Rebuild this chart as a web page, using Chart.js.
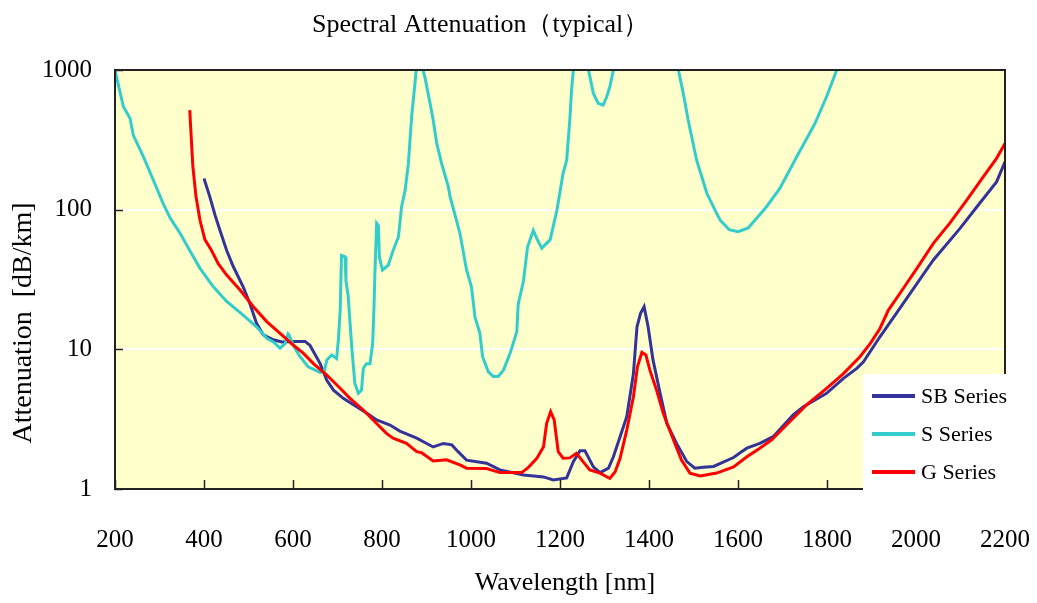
<!DOCTYPE html>
<html>
<head>
<meta charset="utf-8">
<title>Spectral Attenuation</title>
<script src="https://cdn.jsdelivr.net/npm/chart.js@4.4.1/dist/chart.umd.min.js"></script>
<style>
  html, body { margin: 0; padding: 0; background: #fff; }
</style>
</head>
<body>
<canvas id="spectrum" width="1037" height="603"></canvas>
<script>
// wavelength [nm] / attenuation [dB/km]
const sbNm = [400, 413, 425, 436, 451, 466, 488, 503, 518, 533, 556, 575, 601, 627, 638, 661, 676, 691, 713, 743,
  766, 788, 818, 840, 878, 915, 938, 957, 971, 990, 1035, 1065, 1118, 1163, 1185, 1215, 1230, 1245, 1256, 1275,
  1290, 1309, 1320, 1335, 1350, 1365, 1373, 1381, 1389, 1398, 1409, 1425, 1440, 1462, 1485, 1503, 1522, 1545, 1590, 1608,
  1620, 1649, 1679, 1724, 1747, 1799, 1837, 1867, 1882, 1919, 1964, 2039, 2099, 2140, 2181, 2200];
const sbDb = [167, 124, 91, 71, 51, 39, 28, 21.3, 15.4, 12.7, 11.7, 11.3, 11.4, 11.4, 10.7, 7.9, 6.0, 5.1, 4.46, 3.88,
  3.48, 3.12, 2.87, 2.6, 2.31, 2.0, 2.12, 2.07, 1.85, 1.61, 1.53, 1.37, 1.26, 1.22, 1.16, 1.2, 1.57, 1.88, 1.88, 1.44,
  1.31, 1.41, 1.7, 2.37, 3.29, 6.7, 14.5, 18.1, 20.2, 14.5, 8.4, 4.84, 2.95, 2.12, 1.57, 1.41, 1.43, 1.45, 1.68, 1.85,
  1.96, 2.12, 2.37, 3.39, 3.88, 4.84, 6.2, 7.3, 8.15, 12.3, 19.7, 43.6, 73.5, 108, 158, 220];

const sNm = [200, 210, 219, 234, 241, 264, 286, 308, 324, 346, 368, 391, 421, 451, 488, 518, 541, 556, 571, 582,
  589, 591, 604, 616, 634, 661, 670, 676, 687, 698, 702, 706, 709, 717, 719, 724, 732, 739, 747, 754,
  758, 765, 773, 779, 782, 784, 788, 792, 794, 801, 814, 825, 837, 844, 852, 859, 867, 874, 878, 889,
  897, 908, 915, 923, 934, 949, 953, 975, 990, 1001, 1009, 1020, 1026, 1039, 1050, 1061, 1073, 1088, 1103, 1106,
  1118, 1127, 1140, 1148, 1159, 1178, 1193, 1207, 1215, 1222, 1226, 1230, 1247, 1264, 1275, 1286, 1297, 1305, 1312, 1320,
  1390, 1466, 1477, 1488, 1507, 1530, 1552, 1560, 1580, 1600, 1623, 1664, 1694, 1732, 1773, 1799, 1822];
const sDb = [1000, 720, 545, 450, 342, 239, 163, 111, 87, 68, 51, 38, 28, 22, 17.6, 14.5, 12.0, 11.3, 10.2, 11.0,
  12.9, 12.7, 10.2, 8.85, 7.5, 6.84, 6.9, 8.4, 9.1, 8.6, 11.7, 19.1, 47, 46, 31, 24, 10.4, 5.7, 4.84, 5.1,
  7.3, 7.9, 7.9, 11, 20, 35, 80, 77, 46, 37, 40, 51, 64, 105, 138, 210, 480, 800, 1100, 1100,
  870, 577, 438, 298, 214, 146, 124, 68, 37, 28, 17, 13, 8.85, 6.9, 6.4, 6.4, 7.1, 9.4, 13.4, 21,
  31, 54, 71, 62, 53, 61, 99, 182, 226, 438, 718, 1000, 3000, 1000, 680, 577, 561, 643, 758, 1000,
  5000, 1000, 680, 438, 226, 131, 94, 84, 72, 69.5, 74, 105, 142, 239, 415, 643, 1000];

const gNm = [368, 370, 375, 382, 391, 402, 417, 432, 451, 481, 511, 541, 571, 601, 623, 646, 676, 706, 728, 758,
  780, 810, 825, 855, 878, 889, 915, 945, 975, 990, 1035, 1065, 1114, 1129, 1148, 1163, 1170, 1179, 1187, 1196,
  1207, 1222, 1237, 1249, 1267, 1290, 1312, 1324, 1335, 1350, 1365, 1374, 1384, 1393, 1402, 1417, 1432, 1455, 1473, 1492,
  1515, 1552, 1590, 1620, 1649, 1675, 1720, 1754, 1799, 1837, 1874, 1897, 1919, 1938, 1964, 2002, 2039, 2076, 2114, 2151,
  2181, 2200];
const gDb = [516, 392, 203, 124, 84, 61, 51, 41, 34, 26.6, 20.2, 15.8, 13.0, 10.7, 9.4, 7.9, 6.55, 5.26, 4.46, 3.68,
  3.12, 2.5, 2.31, 2.12, 1.85, 1.82, 1.59, 1.62, 1.49, 1.41, 1.4, 1.31, 1.31, 1.43, 1.66, 2.01, 2.95, 3.58, 3.12, 1.85,
  1.66, 1.67, 1.8, 1.61, 1.37, 1.3, 1.19, 1.33, 1.66, 2.64, 4.58, 7.5, 9.5, 9.1, 7.1, 5.1, 3.48, 2.24, 1.61, 1.3,
  1.24, 1.3, 1.44, 1.7, 1.96, 2.24, 3.12, 4.0, 5.26, 6.7, 8.85, 11.0, 14.1, 19.1, 25.2, 38, 57.4, 80, 117, 172,
  233, 298];

const xTicks = [200, 400, 600, 800, 1000, 1200, 1400, 1600, 1800, 2000, 2200];
const yTicks = [1, 10, 100, 1000];

const serif = "'Liberation Serif', 'Times New Roman', serif";

function pairs(xs, ys) {
  return xs.map((x, i) => ({ x: x, y: ys[i] }));
}

// yellow plot area, frame, inward tick marks, titles and the boxed legend
const decor = {
  id: 'decor',
  beforeDraw(chart) {
    const { ctx, chartArea: a } = chart;
    ctx.save();
    ctx.fillStyle = '#ffffcc';
    ctx.fillRect(a.left, a.top, a.right - a.left, a.bottom - a.top);
    ctx.restore();
  },
  afterDatasetsDraw(chart) {
    const { ctx, chartArea: a, scales } = chart;
    ctx.save();
    ctx.strokeStyle = '#222';
    ctx.lineWidth = 1.5;
    ctx.beginPath();
    xTicks.forEach(v => {
      const px = Math.round(scales.x.getPixelForValue(v)) + 0.5;
      ctx.moveTo(px, a.bottom);
      ctx.lineTo(px, a.bottom - 9);
    });
    yTicks.forEach(v => {
      const py = Math.round(scales.y.getPixelForValue(v)) + 0.5;
      ctx.moveTo(a.left, py);
      ctx.lineTo(a.left + 8, py);
    });
    ctx.stroke();
    ctx.lineWidth = 2;
    ctx.strokeRect(a.left, a.top, a.right - a.left, a.bottom - a.top);
    ctx.restore();
  },
  afterDraw(chart) {
    const { ctx, chartArea: a } = chart;
    ctx.save();
    ctx.fillStyle = '#000';

    ctx.font = '26px ' + serif;
    ctx.textAlign = 'left';
    ctx.textBaseline = 'alphabetic';
    ctx.fillText('Spectral Attenuation（typical）', 312, 32);

    ctx.textAlign = 'center';
    ctx.fillText('Wavelength [nm]', 565, 590);

    ctx.translate(24, 323);
    ctx.rotate(-Math.PI / 2);
    ctx.font = '28px ' + serif;
    ctx.textBaseline = 'middle';
    ctx.fillText('Attenuation  [dB/km]', 0, 0);
    ctx.restore();

    // legend box sits over the lower right corner of the frame
    ctx.save();
    const bx = 863, by = 374;
    ctx.fillStyle = '#fff';
    ctx.fillRect(bx, by, 1015 - bx, a.bottom + 2 - by);
    ctx.font = '22px ' + serif;
    ctx.textAlign = 'left';
    ctx.textBaseline = 'middle';
    chart.data.datasets.forEach((ds, i) => {
      const ly = by + 22 + i * 38;
      ctx.strokeStyle = ds.borderColor;
      ctx.lineWidth = 4;
      ctx.beginPath();
      ctx.moveTo(bx + 9, ly);
      ctx.lineTo(bx + 52, ly);
      ctx.stroke();
      ctx.fillStyle = '#000';
      ctx.fillText(ds.label, bx + 58, ly + 1);
    });
    ctx.restore();
  }
};

new Chart(document.getElementById('spectrum'), {
  type: 'line',
  data: {
    datasets: [
      { label: 'SB Series', data: pairs(sbNm, sbDb), borderColor: '#333399', order: 2 },
      { label: 'S Series', data: pairs(sNm, sDb), borderColor: '#33cccc', order: 1 },
      { label: 'G Series', data: pairs(gNm, gDb), borderColor: '#ff0000', order: 0 }
    ]
  },
  options: {
    responsive: false,
    animation: false,
    layout: { padding: { top: 70, right: 32, left: 0, bottom: 0 } },
    elements: {
      point: { radius: 0 },
      line: { borderWidth: 3, tension: 0, fill: false }
    },
    scales: {
      x: {
        type: 'linear',
        min: 200,
        max: 2200,
        afterBuildTicks: s => { s.ticks = xTicks.map(v => ({ value: v })); },
        afterFit: s => {
          s.height = 114;
          s.paddingLeft = 0;
          s.paddingRight = 0;
        },
        grid: { display: false },
        border: { display: false },
        ticks: {
          color: '#000',
          font: { family: serif, size: 25 },
          padding: 28,
          maxRotation: 0,
          autoSkip: false,
          callback: v => String(v)
        }
      },
      y: {
        type: 'logarithmic',
        min: 1,
        max: 1000,
        afterBuildTicks: s => { s.ticks = yTicks.map(v => ({ value: v })); },
        afterFit: s => {
          s.width = 115;
          s.paddingTop = 0;
          s.paddingBottom = 0;
        },
        grid: { color: '#ffffff', lineWidth: 2, drawTicks: false },
        border: { display: false },
        ticks: {
          color: '#000',
          font: { family: serif, size: 25 },
          padding: 23,
          callback: v => String(v)
        }
      }
    },
    plugins: {
      legend: { display: false },
      title: { display: false },
      tooltip: { enabled: false }
    }
  },
  plugins: [decor]
});
</script>
</body>
</html>
